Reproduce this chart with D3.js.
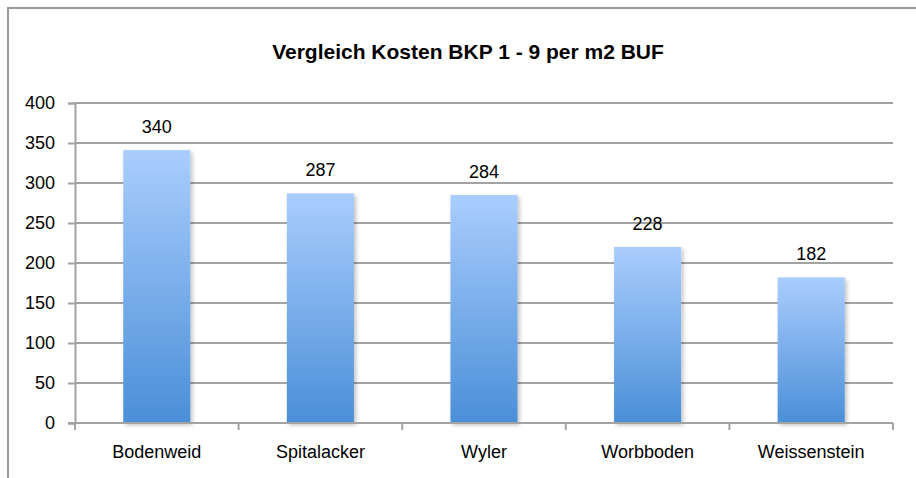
<!DOCTYPE html>
<meta charset="utf-8">
<style>
body { margin: 0; background: #fff; }
text { font-family: "Liberation Sans", Arial, sans-serif; fill: #000; }
</style>
<body>
<svg id="chart" width="916" height="478"></svg>
<script src="https://cdn.jsdelivr.net/npm/d3@7"></script>
<script>

var title = "Vergleich Kosten BKP 1 - 9 per m2 BUF";
var categories = ["Bodenweid", "Spitalacker", "Wyler", "Worbboden", "Weissenstein"];
var values = [341, 287, 285, 220, 182];          // bar heights as drawn
var labels = ["340", "287", "284", "228", "182"]; // data labels as printed
var yTicks = [0, 50, 100, 150, 200, 250, 300, 350, 400];

var svg = d3.select("#chart"),
    margin = {top: 103, right: 23, bottom: 55, left: 75},
    width = +svg.attr("width") - margin.left - margin.right,
    height = +svg.attr("height") - margin.top - margin.bottom;

// outer frame (right and bottom edges fall outside the picture)
svg.append("path")
    .attr("d", "M8,478V8H916")
    .attr("fill", "none")
    .attr("stroke", "#9a9a9a")
    .attr("stroke-width", 2);

svg.append("text")
    .attr("x", 468)
    .attr("y", 59)
    .attr("text-anchor", "middle")
    .style("font-size", "21px")
    .style("font-weight", "bold")
    .text(title);

var defs = svg.append("defs");
var grad = defs.append("linearGradient")
    .attr("id", "barGrad")
    .attr("x1", 0).attr("y1", 0).attr("x2", 0).attr("y2", 1);
grad.append("stop").attr("offset", "0%").attr("stop-color", "#aacdfd");
grad.append("stop").attr("offset", "100%").attr("stop-color", "#4a8fd8");

var shadow = defs.append("filter").attr("id", "shadow")
    .attr("x", "-10%").attr("y", "-10%").attr("width", "130%").attr("height", "130%");
shadow.append("feDropShadow")
    .attr("dx", 2).attr("dy", 2).attr("stdDeviation", 2)
    .attr("flood-color", "#000").attr("flood-opacity", 0.25);

var x = d3.scaleBand().domain(categories).range([0, width]).paddingInner(0.59).paddingOuter(0.295);
var xb = d3.scaleBand().domain(categories).range([0, width]);
var y = d3.scaleLinear().domain([0, 400]).range([height, 0]);

var g = svg.append("g")
    .attr("transform", "translate(" + margin.left + "," + margin.top + ")");

// gridlines
g.append("g")
    .selectAll("line")
    .data(yTicks.slice(1))
  .enter().append("line")
    .attr("x1", 0).attr("x2", width)
    .attr("y1", function(d) { return y(d); })
    .attr("y2", function(d) { return y(d); })
    .attr("stroke", "#a3a3a3")
    .attr("stroke-width", 2);

// y axis
var yAxis = g.append("g")
    .call(d3.axisLeft(y).tickValues(yTicks).tickSize(7).tickPadding(13));
yAxis.select(".domain").attr("stroke", "#a3a3a3").attr("stroke-width", 2);
yAxis.selectAll(".tick line").attr("stroke", "#a3a3a3").attr("stroke-width", 2);
yAxis.selectAll("text").style("font-size", "18px").attr("fill", "#000");

// bars
g.selectAll(".bar")
    .data(values)
  .enter().append("rect")
    .attr("class", "bar")
    .attr("x", function(d, i) { return x(categories[i]); })
    .attr("width", x.bandwidth())
    .attr("y", function(d) { return y(d); })
    .attr("height", function(d) { return height - y(d); })
    .attr("fill", "url(#barGrad)")
    .attr("filter", "url(#shadow)");

// x axis with ticks at category boundaries
var xAxis = g.append("g").attr("transform", "translate(0," + height + ")");
xAxis.append("line")
    .attr("x1", -7).attr("x2", width)
    .attr("stroke", "#a3a3a3").attr("stroke-width", 2);
xAxis.selectAll(".bound")
    .data(categories.concat([null]))
  .enter().append("line")
    .attr("x1", function(d, i) { return i * xb.step(); })
    .attr("x2", function(d, i) { return i * xb.step(); })
    .attr("y1", 0).attr("y2", 7)
    .attr("stroke", "#a3a3a3").attr("stroke-width", 2);
xAxis.selectAll(".cat")
    .data(categories)
  .enter().append("text")
    .attr("x", function(d) { return xb(d) + xb.bandwidth() / 2; })
    .attr("y", 35)
    .attr("text-anchor", "middle")
    .style("font-size", "18px")
    .text(function(d) { return d; });

// data labels
g.selectAll(".label")
    .data(values)
  .enter().append("text")
    .attr("x", function(d, i) { return x(categories[i]) + x.bandwidth() / 2; })
    .attr("y", function(d) { return y(d) - 17; })
    .attr("text-anchor", "middle")
    .style("font-size", "18px")
    .text(function(d, i) { return labels[i]; });

</script>
</body>
